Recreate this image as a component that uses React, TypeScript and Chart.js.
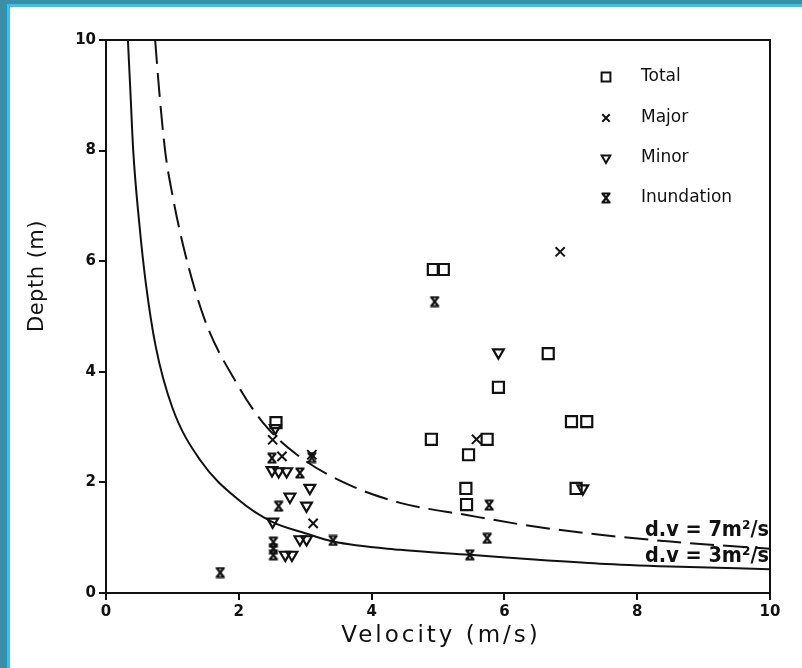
import React, { useEffect, useRef } from 'react';
import { Chart, registerables } from 'chart.js';
import { drawPoint } from 'chart.js/helpers';

Chart.register(...registerables);

// ---- axis ticks ----
const xTickValues = [0, 2, 4, 6, 8, 10];
const yTickValues = [0, 2, 4, 6, 8, 10];

// ---- observed points (velocity m/s, depth m) ----
const totalVelocity = [2.56, 4.93, 5.08, 6.66, 5.91, 7.01, 7.24, 4.90, 5.74, 5.46, 5.42, 5.43, 7.08];
const totalDepth = [3.08, 5.85, 5.85, 4.33, 3.72, 3.10, 3.10, 2.78, 2.78, 2.50, 1.89, 1.60, 1.89];

const majorVelocity = [2.51, 2.65, 3.12, 6.84, 5.58, 3.10];
const majorDepth = [2.77, 2.47, 1.26, 6.17, 2.78, 2.50];

const minorVelocity = [2.55, 2.50, 2.60, 2.72, 3.07, 2.77, 3.02, 2.51, 2.92, 3.02, 2.70, 2.80, 5.91, 7.18];
const minorDepth = [2.98, 2.22, 2.20, 2.20, 1.90, 1.74, 1.58, 1.29, 0.97, 0.97, 0.69, 0.69, 4.35, 1.89];

const inundationVelocity = [2.50, 2.92, 3.10, 2.60, 3.42, 2.52, 2.52, 2.52, 1.72, 4.95, 5.77, 5.74, 5.48];
const inundationDepth = [2.44, 2.17, 2.45, 1.57, 0.95, 0.92, 0.80, 0.69, 0.37, 5.27, 1.59, 0.99, 0.69];

// ---- d·v curves as drawn ----
const solidCurveVelocity = [0.33, 0.37, 0.41, 0.5, 0.6, 0.75, 1.0, 1.42, 2.0, 2.51, 3.0, 3.42, 4.43, 5.48, 6.5, 7.44, 8.5, 10.0];
const solidCurveDepth = [10.0, 9.0, 8.0, 6.7, 5.6, 4.45, 3.35, 2.4, 1.68, 1.28, 1.08, 0.93, 0.78, 0.69, 0.6, 0.53, 0.48, 0.43];

const dashedCurveVelocity = [0.74, 0.8, 0.89, 1.0, 1.2, 1.5, 1.94, 2.37, 2.92, 3.67, 4.43, 5.43, 6.3, 7.24, 8.5, 10.0];
const dashedCurveDepth = [10.0, 9.1, 8.0, 7.2, 6.1, 4.9, 3.85, 3.07, 2.46, 1.95, 1.63, 1.41, 1.23, 1.08, 0.93, 0.8];

const curveLabels = ['d.v = 3m²/s', 'd.v = 7m²/s'];
const legendNames = ['Total', 'Major', 'Minor', 'Inundation'];
const xTitle = 'Velocity (m/s)';
const yTitle = 'Depth (m)';

const INK = '#111111';

function makeInundationIcon(): HTMLCanvasElement {
  const c = document.createElement('canvas');
  c.width = 12;
  c.height = 12;
  const g = c.getContext('2d')!;
  g.strokeStyle = INK;
  g.lineWidth = 2.2;
  g.beginPath();
  g.moveTo(1.5, 1.5); g.lineTo(10.5, 1.5);
  g.moveTo(1.5, 10.5); g.lineTo(10.5, 10.5);
  g.moveTo(2.5, 1.5); g.lineTo(9.5, 10.5);
  g.moveTo(9.5, 1.5); g.lineTo(2.5, 10.5);
  g.stroke();
  return c;
}

const toPoints = (xs: number[], ys: number[]) => xs.map((x, i) => ({ x, y: ys[i] }));

export default function App() {
  const canvasRef = useRef<HTMLCanvasElement | null>(null);

  useEffect(() => {
    const canvas = canvasRef.current;
    if (!canvas) return;
    const icon = makeInundationIcon();

    const symbolStyles: any[] = [
      { pointStyle: 'rect', radius: 7.8, rotation: 0, borderWidth: 2.2 },
      { pointStyle: 'crossRot', radius: 6.5, rotation: 0, borderWidth: 2 },
      { pointStyle: 'triangle', radius: 6.2, rotation: 180, borderWidth: 2.2 },
      { pointStyle: icon, radius: 6, rotation: 0, borderWidth: 0 },
    ];

    const scatterSets = [
      toPoints(totalVelocity, totalDepth),
      toPoints(majorVelocity, majorDepth),
      toPoints(minorVelocity, minorDepth),
      toPoints(inundationVelocity, inundationDepth),
    ];

    const datasets: any[] = [
      {
        type: 'line',
        label: curveLabels[0],
        data: toPoints(solidCurveVelocity, solidCurveDepth),
        borderColor: INK,
        borderWidth: 2,
        pointRadius: 0,
        fill: false,
        cubicInterpolationMode: 'monotone',
      },
      {
        type: 'line',
        label: curveLabels[1],
        data: toPoints(dashedCurveVelocity, dashedCurveDepth),
        borderColor: INK,
        borderWidth: 2,
        borderDash: [24, 9],
        pointRadius: 0,
        fill: false,
        cubicInterpolationMode: 'monotone',
      },
    ];

    scatterSets.forEach((pts, i) => {
      const s = symbolStyles[i];
      datasets.push({
        type: 'scatter',
        label: legendNames[i],
        data: pts,
        pointStyle: s.pointStyle,
        pointRadius: s.radius,
        pointRotation: s.rotation,
        pointBorderWidth: s.borderWidth,
        pointBorderColor: INK,
        pointBackgroundColor: 'rgba(0,0,0,0)',
        showLine: false,
      });
    });

    const framePlugin = {
      id: 'frameAndNotes',
      afterDraw(chart: any) {
        const { ctx, chartArea } = chart;
        const { left, right, top, bottom } = chartArea;
        ctx.save();
        ctx.strokeStyle = INK;
        ctx.lineWidth = 2;
        ctx.beginPath();
        ctx.moveTo(left, top);
        ctx.lineTo(right, top);
        ctx.lineTo(right, bottom);
        ctx.stroke();

        // legend inside the plot
        const lx = left + 500;
        const tx = left + 535;
        const rowY = [top + 37, top + 78, top + 118, top + 158];
        ctx.font = '17px "DejaVu Sans"';
        ctx.textBaseline = 'middle';
        ctx.textAlign = 'left';
        legendNames.forEach((name, i) => {
          const s = symbolStyles[i];
          ctx.strokeStyle = INK;
          ctx.fillStyle = 'rgba(0,0,0,0)';
          drawPoint(ctx, { pointStyle: s.pointStyle, radius: s.radius * 0.8, rotation: s.rotation, borderWidth: s.borderWidth } as any, lx, rowY[i]);
          ctx.fillStyle = INK;
          ctx.fillText(name, tx, rowY[i]);
        });

        // curve labels
        ctx.font = 'bold 21px "DejaVu Sans"';
        ctx.textBaseline = 'alphabetic';
        ctx.fillStyle = INK;
        ctx.fillText(curveLabels[1], left + 539, top + 496, 124);
        ctx.fillText(curveLabels[0], left + 539, top + 522, 124);

        // axis titles
        (ctx as any).letterSpacing = '3px';
        ctx.font = '23px "DejaVu Sans"';
        ctx.textAlign = 'center';
        ctx.fillText(xTitle, (left + right) / 2 + 3, 635);
        (ctx as any).letterSpacing = '0.5px';
        ctx.translate(28, 269);
        ctx.rotate(-Math.PI / 2);
        ctx.font = '21px "DejaVu Sans"';
        ctx.textBaseline = 'middle';
        ctx.fillText(yTitle, 0, 0);
        ctx.restore();
      },
    };

    const tickFont = { family: '"DejaVu Sans"', size: 15, weight: 'bold' as const };

    const chart = new Chart(canvas, {
      type: 'scatter',
      data: { datasets },
      options: {
        animation: false,
        responsive: true,
        maintainAspectRatio: false,
        layout: { padding: { top: 33, right: 32, left: 0, bottom: 0 } },
        plugins: { legend: { display: false }, tooltip: { enabled: false } },
        scales: {
          x: {
            type: 'linear',
            min: 0,
            max: 10,
            afterFit: (s: any) => { s.height = 75; },
            afterBuildTicks: (s: any) => { s.ticks = xTickValues.map((v) => ({ value: v })); },
            ticks: { color: INK, font: tickFont, padding: 3 },
            grid: { display: true, drawOnChartArea: false, drawTicks: true, tickLength: 7, color: INK, lineWidth: 2 },
            border: { display: true, color: INK, width: 2 },
            title: { display: false },
          },
          y: {
            type: 'linear',
            min: 0,
            max: 10,
            afterFit: (s: any) => { s.width = 96; },
            afterBuildTicks: (s: any) => { s.ticks = yTickValues.map((v) => ({ value: v })); },
            ticks: { color: INK, font: tickFont, padding: 3 },
            grid: { display: true, drawOnChartArea: false, drawTicks: true, tickLength: 7, color: INK, lineWidth: 2 },
            border: { display: true, color: INK, width: 2 },
            title: { display: false },
          },
        },
      },
      plugins: [framePlugin],
    } as any);

    return () => chart.destroy();
  }, []);

  return (
    <div style={{ position: 'fixed', left: 0, top: 0, width: 802, height: 668, background: '#3b8ea6', overflow: 'hidden' }}>
      <div style={{ position: 'absolute', left: 7, top: 4, right: 0, bottom: 0, background: '#2ec4f3' }} />
      <div style={{ position: 'absolute', left: 10, top: 7, right: 0, bottom: 0, background: '#ffffff' }}>
        <div style={{ position: 'absolute', left: 0, top: 0, width: 792, height: 661 }}>
          <canvas ref={canvasRef} />
        </div>
      </div>
    </div>
  );
}
